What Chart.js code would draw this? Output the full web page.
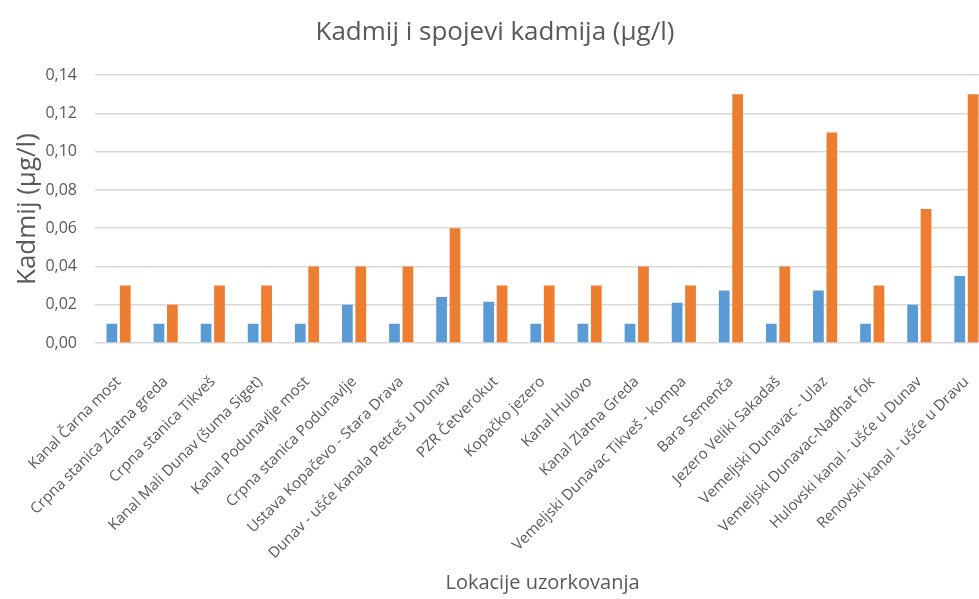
<!DOCTYPE html>
<html lang="hr">
<head>
<meta charset="utf-8">
<title>Kadmij i spojevi kadmija</title>
<script src="https://cdn.jsdelivr.net/npm/chart.js@4/dist/chart.umd.min.js"></script>
<style>
  html, body { margin: 0; padding: 0; background: #fff; overflow: hidden; }
  #wrap { width: 990px; height: 599px; position: relative; }
</style>
</head>
<body>
<div id="wrap"><canvas id="c"></canvas></div>
<script>
// Lokacije uzorkovanja
const lokacije = [
  'Kanal Čarna most',
  'Crpna stanica Zlatna greda',
  'Crpna stanica Tikveš',
  'Kanal Mali Dunav (šuma Siget)',
  'Kanal Podunavlje most',
  'Crpna stanica Podunavlje',
  'Ustava Kopačevo - Stara Drava',
  'Dunav - ušće kanala Petreš u Dunav',
  'PZR Četverokut',
  'Kopačko jezero',
  'Kanal Hulovo',
  'Kanal Zlatna Greda',
  'Vemeljski Dunavac Tikveš - kompa',
  'Bara Semenča',
  'Jezero Veliki Sakadaš',
  'Vemeljski Dunavac - Ulaz',
  'Vemeljski Dunavac-Nađhat fok',
  'Hulovski kanal - ušće u Dunav',
  'Renovski kanal - ušće u Dravu'
];

// Koncentracije kadmija (µg/l)
const srednjeVrijednosti = [0.010, 0.010, 0.010, 0.010, 0.010, 0.020, 0.010, 0.024, 0.0215, 0.010,
                            0.010, 0.010, 0.021, 0.0275, 0.010, 0.0275, 0.010, 0.020, 0.035];
const maksimalneVrijednosti = [0.03, 0.02, 0.03, 0.03, 0.04, 0.04, 0.04, 0.06, 0.03, 0.03,
                               0.03, 0.04, 0.03, 0.13, 0.04, 0.11, 0.03, 0.07, 0.13];

// Os Y
const yMin = 0;
const yMax = 0.14;
const yKorak = 0.02;

// Širine/visine okvira osi (px)
const sirinaOsiY = 95;
const visinaOsiX = 252;

const sivaTekst = '#595959';
const font = '"Open Sans", "Noto Sans", sans-serif';

new Chart(document.getElementById('c'), {
  type: 'bar',
  data: {
    labels: lokacije,
    datasets: [
      {
        label: 'Srednja vrijednost',
        data: srednjeVrijednosti,
        backgroundColor: '#5B9BD5',
        borderWidth: 0,
        barPercentage: 0.8,
        categoryPercentage: 0.57
      },
      {
        label: 'Maksimalna vrijednost',
        data: maksimalneVrijednosti,
        backgroundColor: '#ED7D31',
        borderWidth: 0,
        barPercentage: 0.8,
        categoryPercentage: 0.57
      }
    ]
  },
  options: {
    responsive: true,
    maintainAspectRatio: false,
    animation: false,
    layout: { padding: { left: 0, right: 0, top: 9, bottom: 4 } },
    plugins: {
      legend: { display: false },
      tooltip: { enabled: false },
      title: {
        display: true,
        text: 'Kadmij i spojevi kadmija (µg/l)',
        color: sivaTekst,
        font: { family: font, size: 26, weight: 'normal' },
        padding: { top: 8, bottom: 27 }
      }
    },
    scales: {
      x: {
        grid: { display: false, drawTicks: false },
        border: { display: false },
        ticks: {
          color: sivaTekst,
          font: { family: font, size: 15 },
          maxRotation: 45,
          minRotation: 45,
          autoSkip: false,
          padding: 30
        },
        // slanted labels may run under the y-axis title instead of pushing the plot inwards
        afterFit: scale => {
          scale.paddingLeft = 0;
          scale.paddingRight = 0;
          scale.height = visinaOsiX;
        },
        title: {
          display: true,
          text: 'Lokacije uzorkovanja',
          color: sivaTekst,
          font: { family: font, size: 20 },
          padding: { top: 0, bottom: 0 }
        }
      },
      y: {
        min: yMin,
        max: yMax,
        grid: { color: '#d9d9d9', lineWidth: 1.5, drawTicks: false },
        border: { display: false },
        afterFit: scale => { scale.width = sirinaOsiY; },
        ticks: {
          stepSize: yKorak,
          color: sivaTekst,
          font: { family: font, size: 16 },
          padding: 18,
          callback: v => v.toFixed(2).replace('.', ',')
        },
        title: {
          display: true,
          text: 'Kadmij (µg/l)',
          color: sivaTekst,
          font: { family: font, size: 26 },
          padding: { top: 12, bottom: 2 }
        }
      }
    }
  }
});
</script>
</body>
</html>
